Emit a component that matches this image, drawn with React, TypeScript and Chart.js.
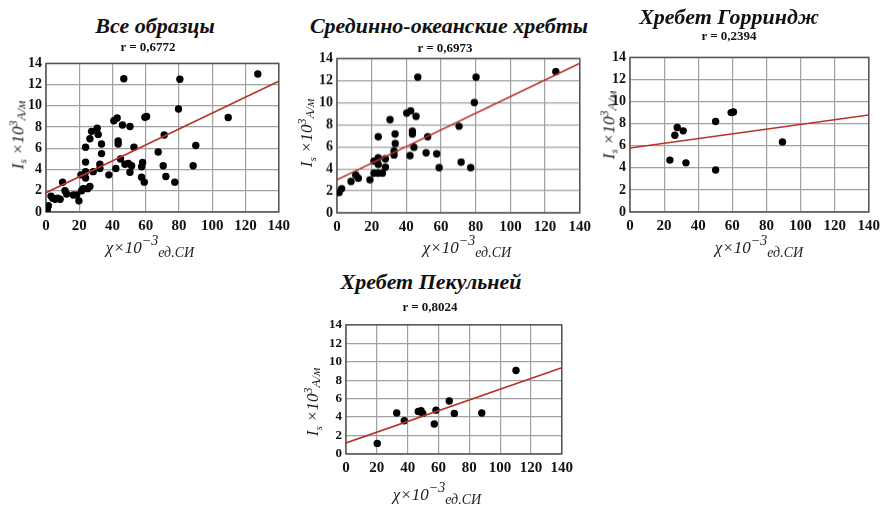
import React, { useEffect, useRef } from 'react';
import { Chart, registerables } from 'chart.js';

Chart.register(...registerables);

// ---- tick labels ----
const xTickValues = [0, 20, 40, 60, 80, 100, 120, 140];
const yTickValues = [0, 2, 4, 6, 8, 10, 12, 14];

// ---- titles ----
const panelTitles = ['Все образцы', 'Срединно-океанские хребты', 'Хребет Горриндж', 'Хребет Пекульней'];
const rLabels = ['r = 0,6772', 'r = 0,6973', 'r = 0,2394', 'r = 0,8024'];

// ---- Все образцы ----
const allX = [0.8, 1.4, 3, 4, 5.5, 7, 8.5, 10, 11.4, 12.4, 16.4, 18.4, 19.8, 21, 21.4, 22.4, 23.8, 23.8, 23.8, 23.8, 25, 26.4, 26.4, 27.4, 28.4, 30.8, 31.4, 32.4, 32.4, 33.4, 33.4, 37.8, 40.8, 42.8, 42, 43.4, 43.4, 44.8, 46, 46.8, 47.5, 49.5, 50.5, 50.5, 51.5, 52.9, 58.1, 57.5, 57.5, 59.1, 59.5, 60.5, 67.5, 71.1, 70.5, 72.1, 77.5, 79.7, 80.5, 88.5, 90.1, 109.6, 127.4];
const allY = [0.25, 0.6, 1.5, 1.3, 1.2, 1.3, 1.2, 2.8, 2.0, 1.7, 1.6, 1.6, 1.05, 3.5, 2.0, 2.2, 6.1, 4.7, 3.8, 3.2, 2.2, 2.4, 6.9, 7.6, 3.8, 7.9, 7.3, 4.5, 4.1, 6.4, 5.5, 3.5, 8.6, 8.85, 4.1, 6.7, 6.4, 5.0, 8.2, 12.55, 4.5, 4.57, 8.06, 3.74, 4.36, 6.1, 4.66, 4.26, 3.27, 2.81, 8.93, 9.0, 5.65, 7.26, 4.36, 3.34, 2.81, 9.7, 12.5, 4.36, 6.27, 8.9, 13.0];
const allFit = [1.82, 12.33];

// ---- Срединно-океанские хребты ----
const morX = [1.2, 2.7, 8.1, 10.8, 12.3, 19, 21.3, 21.3, 23.7, 26.2, 23.8, 23.8, 23.8, 27.9, 27.9, 30.6, 32.9, 32.9, 33.5, 33.6, 40.2, 42.5, 42.1, 43.5, 43.5, 44.4, 45.6, 46.6, 52.3, 51.4, 57.5, 58.9, 70.4, 71.6, 77.1, 79.2, 80.2, 126.2];
const morY = [1.85, 2.2, 2.85, 3.45, 3.15, 3.0, 3.6, 4.7, 3.6, 3.6, 4.4, 5.0, 6.9, 4.15, 4.9, 8.45, 5.25, 5.6, 7.15, 6.3, 9.05, 9.25, 5.2, 7.4, 7.15, 5.95, 8.75, 12.3, 6.9, 5.45, 5.35, 4.1, 7.85, 4.6, 4.1, 10.0, 12.3, 12.8];
const morFit = [3.0, 13.55];

// ---- Хребет Горриндж ----
const gorX = [23.4, 26.3, 27.7, 31.2, 32.8, 50.2, 50.2, 59.3, 60.7, 89.4];
const gorY = [4.7, 6.95, 7.65, 7.35, 4.45, 3.8, 8.2, 9.0, 9.05, 6.35];
const gorFit = [5.8, 8.78];

// ---- Хребет Пекульней ----
const pekX = [20.3, 32.9, 37.8, 46.9, 48.7, 49.8, 57.3, 58.4, 67.0, 70.3, 88.1, 110.3];
const pekY = [1.15, 4.45, 3.6, 4.6, 4.7, 4.4, 3.25, 4.75, 5.75, 4.4, 4.45, 9.05];
const pekFit = [1.2, 9.35];

const fitX = [0, 140];

const SERIF = '"Liberation Serif", "Times New Roman", serif';

const framePlugin = {
  id: 'frame',
  beforeDatasetsDraw(chart: any) {
    const { ctx, chartArea: a } = chart;
    ctx.save();
    ctx.strokeStyle = '#555';
    ctx.lineWidth = 1.5;
    ctx.strokeRect(a.left, a.top, a.right - a.left, a.bottom - a.top);
    ctx.restore();
  },
};

type Area = { l: number; r: number; t: number; b: number };

function Panel({ area, xs, ys, fit, yFont = 14 }: { area: Area; xs: number[]; ys: number[]; fit: number[]; yFont?: number }) {
  const ref = useRef<HTMLCanvasElement>(null);
  const YW = 40, XH = 28, PT = 10, PR = 16;
  const left = area.l - YW;
  const top = area.t - PT;
  const w = area.r - left + PR;
  const h = area.b - top + XH;

  useEffect(() => {
    const pts = xs.map((x, i) => ({ x, y: ys[i] }));
    const line = fitX.map((x, i) => ({ x, y: fit[i] }));
    const chart = new Chart(ref.current as HTMLCanvasElement, {
      type: 'scatter',
      data: {
        datasets: [
          {
            data: pts,
            backgroundColor: '#000',
            borderColor: '#000',
            borderWidth: 0,
            pointRadius: 3.7,
            order: 2,
          },
          {
            data: line,
            showLine: true,
            borderColor: '#b8322a',
            borderWidth: 1.6,
            pointRadius: 0,
            order: 1,
          },
        ],
      },
      options: {
        animation: false,
        responsive: false,
        maintainAspectRatio: false,
        events: [],
        layout: { padding: { left: 0, right: PR, top: PT, bottom: 0 } },
        plugins: { legend: { display: false }, tooltip: { enabled: false } },
        scales: {
          x: {
            type: 'linear',
            min: 0,
            max: 140,
            afterBuildTicks: (s: any) => {
              s.ticks = xTickValues.map((v) => ({ value: v }));
            },
            afterFit: (s: any) => {
              s.height = XH;
            },
            ticks: {
              color: '#111',
              padding: 5,
              maxRotation: 0,
              autoSkip: false,
              font: { family: SERIF, size: 15, weight: 'bold' },
            },
            grid: { color: '#a0a0a0', lineWidth: 1.2, drawTicks: false },
            border: { display: false },
          },
          y: {
            type: 'linear',
            min: 0,
            max: 14,
            afterBuildTicks: (s: any) => {
              s.ticks = yTickValues.map((v) => ({ value: v }));
            },
            afterFit: (s: any) => {
              s.width = YW;
            },
            ticks: {
              color: '#111',
              padding: 4,
              autoSkip: false,
              font: { family: SERIF, size: yFont, weight: 'bold' },
            },
            grid: { color: '#a0a0a0', lineWidth: 1.2, drawTicks: false },
            border: { display: false },
          },
        },
      },
      plugins: [framePlugin],
    } as any);
    return () => chart.destroy();
  }, []);

  return (
    <canvas
      ref={ref}
      width={w}
      height={h}
      style={{ position: 'absolute', left, top, width: w, height: h }}
    />
  );
}

function Centered({ x, y, style, children }: { x: number; y: number; style?: any; children: any }) {
  return (
    <div
      style={{
        position: 'absolute',
        left: x,
        top: y,
        transform: 'translate(-50%, -50%)',
        whiteSpace: 'nowrap',
        lineHeight: 1,
        color: '#111',
        fontFamily: SERIF,
        ...style,
      }}
    >
      {children}
    </div>
  );
}

const titleStyle = { fontSize: 22, fontWeight: 'bold', fontStyle: 'italic' };
const rStyle = { fontSize: 13, fontWeight: 'bold' };

function YTitle({ x, y }: { x: number; y: number }) {
  return (
    <div
      style={{
        position: 'absolute',
        left: x,
        top: y,
        transform: 'translate(-50%, -50%) rotate(-90deg)',
        whiteSpace: 'nowrap',
        lineHeight: 1,
        fontFamily: SERIF,
        fontStyle: 'italic',
        fontSize: 17,
        color: '#222',
      }}
    >
      I<span style={{ fontSize: 11, verticalAlign: '-0.3em' }}>s</span> ×10
      <span style={{ fontSize: 12, verticalAlign: '0.5em' }}>3</span>
      <span style={{ fontSize: 13, verticalAlign: '-0.15em' }}>A/м</span>
    </div>
  );
}

function XTitle({ x, y }: { x: number; y: number }) {
  return (
    <div
      style={{
        position: 'absolute',
        left: x,
        top: y,
        transform: 'translate(-50%, -50%)',
        whiteSpace: 'nowrap',
        lineHeight: 1,
        fontFamily: SERIF,
        fontStyle: 'italic',
        fontSize: 17,
        color: '#222',
      }}
    >
      χ×10
      <span style={{ fontSize: 14, verticalAlign: '0.6em' }}>−3</span>
      <span style={{ fontSize: 14, verticalAlign: '-0.3em' }}>ед.СИ</span>
    </div>
  );
}

export default function App() {
  return (
    <div
      style={{
        position: 'fixed',
        left: 0,
        top: 0,
        width: 881,
        height: 505,
        overflow: 'hidden',
        background: '#fff',
      }}
    >
      <Panel area={{ l: 46, r: 279, t: 61, b: 212 }} xs={allX} ys={allY} fit={allFit} />
      <Panel area={{ l: 337, r: 580, t: 56, b: 212.5 }} xs={morX} ys={morY} fit={morFit} />
      <Panel area={{ l: 630, r: 869, t: 55, b: 212 }} xs={gorX} ys={gorY} fit={gorFit} />
      <Panel area={{ l: 346, r: 562, t: 323, b: 454 }} xs={pekX} ys={pekY} fit={pekFit} yFont={13} />

      <Centered x={155} y={26} style={titleStyle}>{panelTitles[0]}</Centered>
      <Centered x={148} y={46} style={rStyle}>{rLabels[0]}</Centered>
      <Centered x={449} y={26} style={titleStyle}>{panelTitles[1]}</Centered>
      <Centered x={445} y={47} style={rStyle}>{rLabels[1]}</Centered>
      <Centered x={729} y={17} style={titleStyle}>{panelTitles[2]}</Centered>
      <Centered x={729} y={35} style={rStyle}>{rLabels[2]}</Centered>
      <Centered x={431} y={282} style={titleStyle}>{panelTitles[3]}</Centered>
      <Centered x={430} y={306} style={rStyle}>{rLabels[3]}</Centered>

      <YTitle x={18} y={135} />
      <YTitle x={307} y={133} />
      <YTitle x={609} y={125} />
      <YTitle x={313} y={402} />

      <XTitle x={150} y={247} />
      <XTitle x={467} y={247} />
      <XTitle x={759} y={247} />
      <XTitle x={437} y={494} />
    </div>
  );
}
